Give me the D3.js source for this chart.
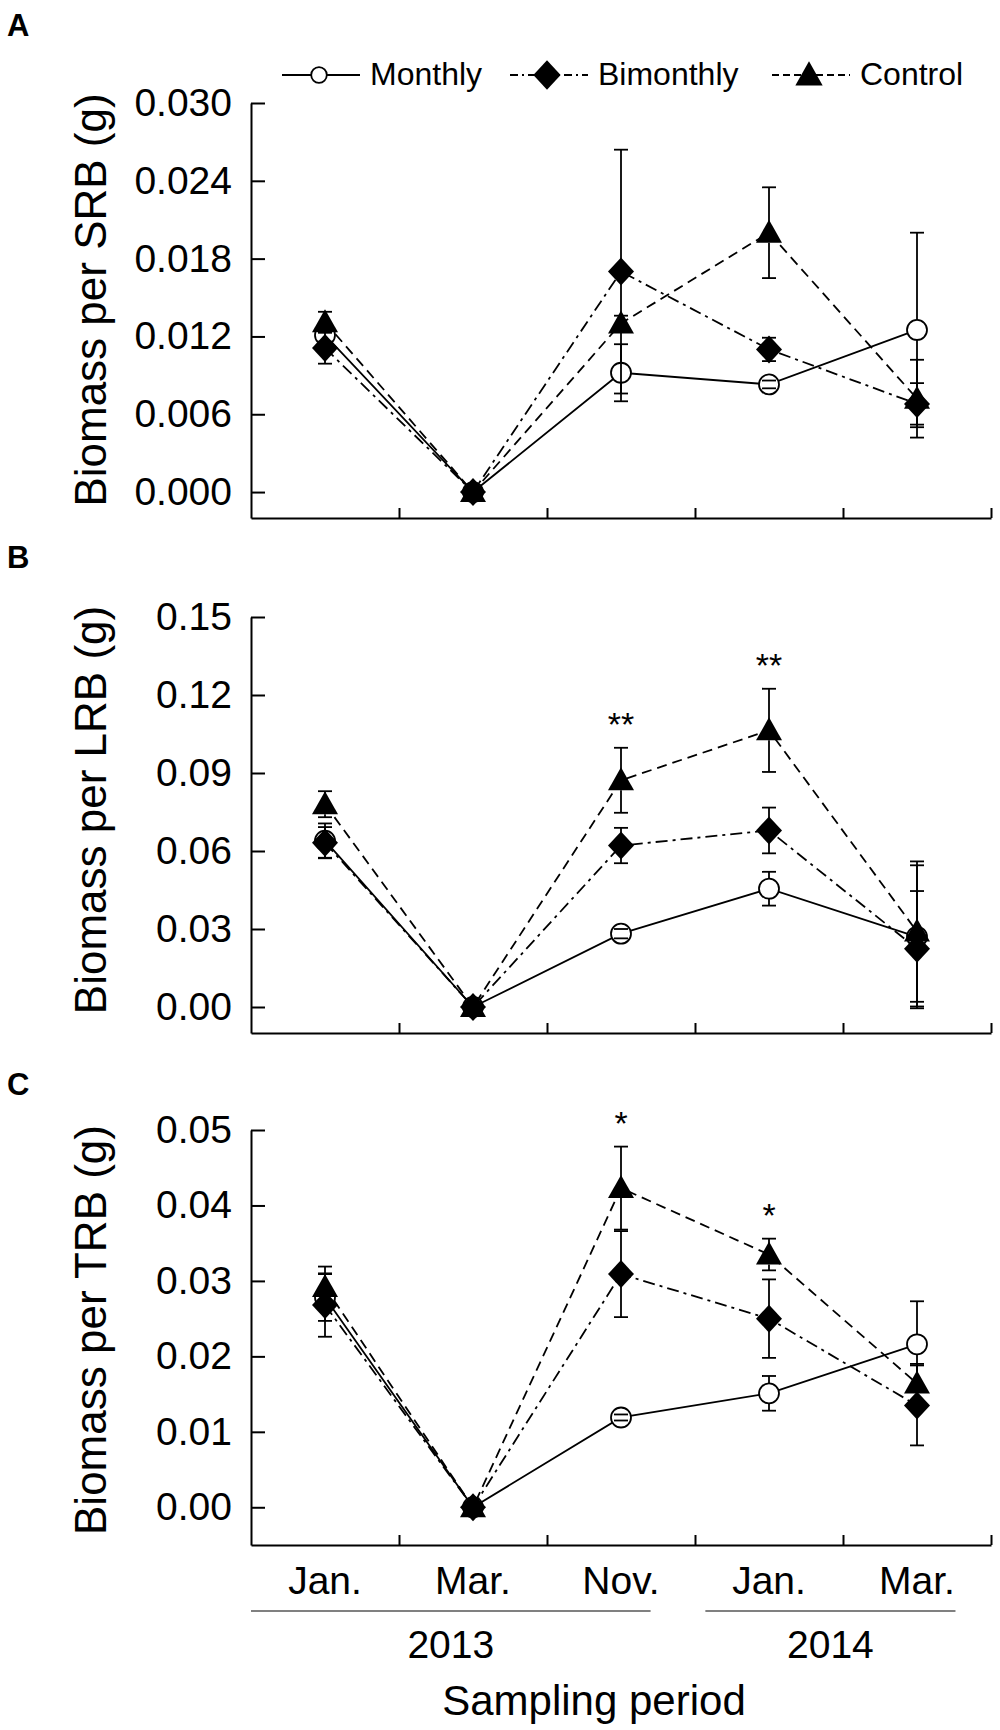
<!DOCTYPE html>
<html lang="en">
<head>
<meta charset="UTF-8">
<title>chart</title>
<script src="https://d3js.org/d3.v7.min.js"></script>
<style>
  body { margin: 0; background: #fff; }
  svg { display: block; font-family: "Liberation Sans", Arial, sans-serif; }
</style>
</head>
<body>
<svg width="1000" height="1730"></svg>
<script>
// sampling periods and series
const periods = ["Jan.", "Mar.", "Nov.", "Jan.", "Mar."];
const years = ["2013", "2014"];
const seriesNames = ["Monthly", "Bimonthly", "Control"];

// A - biomass per SRB
const srbMonthly     = [0.0121, 0, 0.0092, 0.0083, 0.0125];
const srbMonthlySe   = [0.0005, 0, 0.0022, 0.0003, 0.0075];
const srbBimonthly   = [0.0111, 0, 0.0170, 0.0110, 0.0068];
const srbBimonthlySe = [0.0012, 0, 0.0094, 0.0009, 0.0016];
const srbControl     = [0.0131, 0, 0.0130, 0.0200, 0.0072];
const srbControlSe   = [0.0008, 0, 0.0006, 0.0035, 0.0030];

// B - biomass per LRB
const lrbMonthly     = [0.0640, 0, 0.0282, 0.0455, 0.0270];
const lrbMonthlySe   = [0.0066, 0, 0.0018, 0.0065, 0.0275];
const lrbBimonthly   = [0.0632, 0, 0.0621, 0.0679, 0.0224];
const lrbBimonthlySe = [0.0060, 0, 0.0068, 0.0088, 0.0222];
const lrbControl     = [0.0780, 0, 0.0872, 0.1064, 0.0290];
const lrbControlSe   = [0.0050, 0, 0.0125, 0.0160, 0.0270];

// C - biomass per TRB
const trbMonthly     = [0.0278, 0, 0.0119, 0.0151, 0.0216];
const trbMonthlySe   = [0.0031, 0, 0.0004, 0.0023, 0.0057];
const trbBimonthly   = [0.0268, 0, 0.0309, 0.0250, 0.0135];
const trbBimonthlySe = [0.0042, 0, 0.0057, 0.0052, 0.0053];
const trbControl     = [0.0292, 0, 0.0423, 0.0335, 0.0164];
const trbControlSe   = [0.0027, 0, 0.0055, 0.0021, 0.0026];

// y tick values
const srbTicks = [0, 0.006, 0.012, 0.018, 0.024, 0.030];
const lrbTicks = [0, 0.03, 0.06, 0.09, 0.12, 0.15];
const trbTicks = [0, 0.01, 0.02, 0.03, 0.04, 0.05];

// significance marks
const srbStars = ["", "", "", "", ""];
const lrbStars = ["", "", "**", "**", ""];
const trbStars = ["", "", "*", "*", ""];

const panels = [
  { letter: "A", letterY: 36, title: "Biomass per SRB (g)", titleY: 300,
    top: 103, bottom: 518, lo: -0.002, ticks: srbTicks, fmt: ".3f", stars: srbStars,
    series: [[srbMonthly, srbMonthlySe], [srbBimonthly, srbBimonthlySe], [srbControl, srbControlSe]] },
  { letter: "B", letterY: 568, title: "Biomass per LRB (g)", titleY: 810,
    top: 617, bottom: 1033, lo: -0.01, ticks: lrbTicks, fmt: ".2f", stars: lrbStars,
    series: [[lrbMonthly, lrbMonthlySe], [lrbBimonthly, lrbBimonthlySe], [lrbControl, lrbControlSe]] },
  { letter: "C", letterY: 1095, title: "Biomass per TRB (g)", titleY: 1330,
    top: 1130, bottom: 1545, lo: -0.005, ticks: trbTicks, fmt: ".2f", stars: trbStars,
    series: [[trbMonthly, trbMonthlySe], [trbBimonthly, trbBimonthlySe], [trbControl, trbControlSe]] }
];

const left = 251, right = 991;
const dashes = ["none", "12,5,3,5", "10,6"];

const svg = d3.select("svg");
svg.append("rect").attr("width", 1000).attr("height", 1730).attr("fill", "#fff");

const x = d3.scaleBand().domain(d3.range(periods.length)).range([left, right]);
const cx = i => x(i) + x.bandwidth() / 2;
const xEdge = d3.scaleLinear().domain([0, periods.length]).range([left, right]);

// marker shapes
function marker(sel, k, big) {
  const s = big || 1;
  if (k === 0) {
    sel.append("circle").attr("r", 10 * s).attr("fill", "#fff")
      .attr("stroke", "#000").attr("stroke-width", 1.8);
  } else if (k === 1) {
    sel.append("path").attr("d", `M0,${-14 * s}L${13 * s},0L0,${14 * s}L${-13 * s},0Z`).attr("fill", "#000");
  } else {
    sel.append("path").attr("d", `M0,${-13 * s}L${13 * s},${10 * s}L${-13 * s},${10 * s}Z`).attr("fill", "#000");
  }
}

panels.forEach(p => {
  const y = d3.scaleLinear().domain([p.lo, d3.max(p.ticks)]).range([p.bottom, p.top]);
  const g = svg.append("g");

  // axes
  const yAxis = g.append("g")
    .attr("transform", `translate(${left},0)`)
    .call(d3.axisLeft(y).tickValues(p.ticks).tickSize(-14).tickSizeOuter(0)
      .tickPadding(19).tickFormat(d3.format(p.fmt)));
  const xAxis = g.append("g")
    .attr("transform", `translate(0,${p.bottom})`)
    .call(d3.axisBottom(xEdge).tickValues(d3.range(1, periods.length + 1))
      .tickSize(-10).tickSizeOuter(0).tickFormat(""));
  [yAxis, xAxis].forEach(a => {
    a.selectAll("path, line").attr("stroke", "#000").attr("stroke-width", 2);
    a.selectAll("text").attr("font-size", 39).attr("fill", "#000")
      .attr("font-family", "'Liberation Sans', Arial, sans-serif");
  });

  g.append("text")
    .attr("transform", `translate(106,${p.titleY}) rotate(-90)`)
    .attr("text-anchor", "middle").attr("font-size", 44).attr("fill", "#000")
    .text(p.title);

  g.append("text").attr("x", 7).attr("y", p.letterY)
    .attr("font-size", 31).attr("font-weight", "bold").text(p.letter);

  const line = d3.line().x((d, i) => cx(i)).y(d => y(d));

  p.series.forEach(([vals], k) => {
    g.append("path").datum(vals).attr("d", line)
      .attr("fill", "none").attr("stroke", "#000").attr("stroke-width", 1.8)
      .attr("stroke-dasharray", dashes[k]);
  });

  p.series.forEach(([vals, se], k) => {
    const m = g.selectAll(null).data(vals).join("g")
      .attr("transform", (d, i) => `translate(${cx(i)},${y(d)})`);
    marker(m, k);

    // error bars, drawn from the marker edge outwards
    const r = 10;
    vals.forEach((v, i) => {
      if (!se[i]) return;
      const xc = cx(i), yc = y(v);
      [v + se[i], v - se[i]].forEach(e => {
        const ye = y(e);
        const edge = ye < yc ? yc - r : yc + r;
        if (Math.abs(ye - yc) > r) {
          g.append("line").attr("x1", xc).attr("x2", xc).attr("y1", ye).attr("y2", edge)
            .attr("stroke", "#000").attr("stroke-width", 1.8);
        }
        g.append("line").attr("x1", xc - 7).attr("x2", xc + 7).attr("y1", ye).attr("y2", ye)
          .attr("stroke", "#000").attr("stroke-width", 1.8);
      });
    });
  });

  // stars above the highest error bar
  p.stars.forEach((s, i) => {
    if (!s) return;
    const topVal = d3.max(p.series, ([v, e]) => v[i] + e[i]);
    g.append("text").attr("x", cx(i)).attr("y", y(topVal) - 12)
      .attr("text-anchor", "middle").attr("font-size", 34).text(s);
  });
});

// period labels under the last panel
const last = panels[panels.length - 1];
svg.append("g")
  .attr("transform", `translate(0,${last.bottom})`)
  .call(d3.axisBottom(x).tickSize(0).tickPadding(21).tickFormat(i => periods[i]))
  .call(a => a.select(".domain").remove())
  .call(a => a.selectAll("text").attr("font-size", 39).attr("fill", "#000")
    .attr("font-family", "'Liberation Sans', Arial, sans-serif"));

// year brackets
const bw = x.bandwidth();
const spanX = [[x(0), x(2) + 0.7 * bw], [x(3) + 0.07 * bw, x(4) + 0.76 * bw]];
years.forEach((yr, j) => {
  const [x0, x1] = spanX[j];
  svg.append("line").attr("x1", x0).attr("x2", x1).attr("y1", 1611).attr("y2", 1611)
    .attr("stroke", "#808080").attr("stroke-width", 2);
  svg.append("text").attr("x", (x0 + x1) / 2).attr("y", 1658)
    .attr("text-anchor", "middle").attr("font-size", 39).text(yr);
});

svg.append("text").attr("x", 594).attr("y", 1715)
  .attr("text-anchor", "middle").attr("font-size", 42).text("Sampling period");

// legend
const legendX = [282, 510, 772];
const legendDash = [null, "8,4,2,4", "7,4"];
const legend = svg.append("g").attr("transform", "translate(0,75)");
seriesNames.forEach((name, k) => {
  const lx = legendX[k];
  legend.append("line").attr("x1", lx).attr("x2", lx + 78).attr("y1", 0).attr("y2", 0)
    .attr("stroke", "#000").attr("stroke-width", 1.8).attr("stroke-dasharray", legendDash[k]);
  const m = legend.append("g").attr("transform", `translate(${lx + 37},0)`);
  marker(m, k, k === 0 ? 0.78 : 1.05);
  legend.append("text").attr("x", lx + 88).attr("y", 10)
    .attr("font-size", 32).attr("fill", "#000").text(name);
});
</script>
</body>
</html>
